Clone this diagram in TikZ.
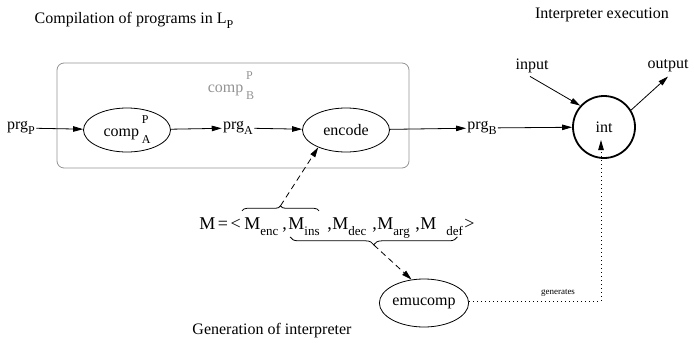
\documentclass[tikz,border=0pt]{standalone}
\usepackage{fontspec}
\setmainfont{Liberation Serif}
\usetikzlibrary{arrows.meta,decorations.pathreplacing,shapes.geometric}
\newcommand\mysb[1]{\raisebox{-0.3em}{\fontsize{12}{12}\selectfont #1}}
\newcommand\mytsb[1]{\raisebox{-0.35em}{\fontsize{13}{13}\selectfont #1}}
\newcommand\mystk[2]{\rlap{\raisebox{0.8em}{\fontsize{12}{12}\selectfont #1}}\raisebox{-0.45em}{\fontsize{12}{12}\selectfont #2}}
\begin{document}
\begin{tikzpicture}[x=1pt,y=-1pt,
  font=\fontsize{16}{19}\selectfont,
  line width=0.8pt,
  tip/.style={-{Triangle[length=10pt,width=5.5pt]}},
  ell/.style={draw,ellipse,minimum width=87pt,minimum height=44pt,inner sep=0pt},
  txt/.style={inner sep=1pt},
  tup/.style={inner sep=0pt,anchor=base west,font=\fontsize{18}{20}\selectfont},
  dashline/.style={dash pattern=on 6pt off 4pt},
  dotline/.style={dash pattern=on 0.8pt off 3.2pt},
  brc/.style={decorate,decoration={brace,amplitude=#1}}]
\useasboundingbox (0,0) rectangle (694,343);
% titles
\node[txt] (t1) at (134,20) {Compilation of programs in L\mysb{P}};
\node[txt] (t2) at (602,15) {Interpreter execution};
\node[txt] (t3) at (272,331) {Generation of interpreter};
% compiler box
\draw[gray!85,rounded corners=7pt] (57,63) rectangle (409,168);
\node[txt,text=gray!85] (compB) at (231,86) {comp\,\mystk{P}{B}};
% main row
\node[txt] (prgP) at (21,128) {prg\mysb{P}};
\node[ell] (comp) at (127,130) {comp\,\mystk{P}{A}};
\node[txt] (prgA) at (238,128) {prg\mysb{A}};
\node[ell] (enc) at (346,130) {encode};
\node[txt] (prgB) at (482,128) {prg\mysb{B}};
\node[draw,circle,line width=1.8pt,minimum size=62pt,inner sep=0pt] (int) at (604,127) {int};
\node[txt] (inp) at (532,66) {input};
\node[txt] (out) at (668,66) {output};
\draw[tip] (prgP) -- (comp);
\draw[tip] (comp) -- (prgA);
\draw[tip] (prgA) -- (enc);
\draw[tip] (enc) -- (prgB);
\draw[tip] (prgB) -- (int);
\draw[tip] (inp.south) ++(-2,2) -- (int.138);
\draw[tip] (int.32) -- ([yshift=-3pt]out.south);
% M tuple
\node[tup] (Meq)  at (199,229) {M\kern2.5pt=\kern2.5pt<};
\node[tup] (Menc) at (244,229) {M\mytsb{enc}};
\node[tup] (c1)   at (282,229) {,};
\node[tup] (Mins) at (288,229) {M\mytsb{ins}};
\node[tup] (c2)   at (327,229) {,};
\node[tup] (Mdec) at (332,229) {M\mytsb{dec}};
\node[tup] (c3)   at (372,229) {,};
\node[tup] (Marg) at (377,229) {M\mytsb{arg}};
\node[tup] (c4)   at (415,229) {,};
\node[tup] (Mdef) at (420,229) {M\hspace{10pt}\mytsb{def}};
\node[tup] (gt)   at (464,229) {>};
\draw[brc=5pt] ([xshift=-2pt,yshift=6pt]Menc.north west) -- coordinate[pos=0.5,yshift=5pt] (b1) ([xshift=-1pt,yshift=6pt]Mins.north east);
\draw[brc=8pt] ([xshift=-6pt,yshift=-1pt]Mdef.south east) -- coordinate[pos=0.5,yshift=-8pt] (b2) ([xshift=2pt,yshift=-1pt]Mins.south west);
\draw[dashline,tip] (b1) -- (enc.212);
% emucomp
\node[ell,minimum width=84pt,minimum height=48pt] (emu) at (424,303) {emucomp};
\draw[dashline,tip] (b2) -- (emu.118);
\coordinate (gc) at (601,301);
\coordinate (itip) at (601,140);
\draw[dotline,tip] (emu.east |- gc) -- (gc) -- (itip);
\node[txt,font=\fontsize{9}{10}\selectfont] (gen) at (558,293) {generates};
\end{tikzpicture}
\end{document}
